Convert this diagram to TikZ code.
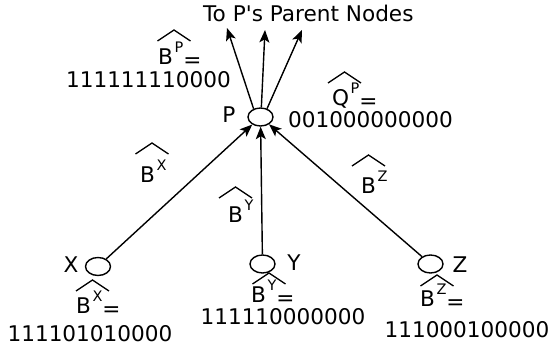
\documentclass[tikz,border=0pt]{standalone}
\usepackage{fontspec}
\newfontfamily\djv{DejaVu Sans}
\usetikzlibrary{shapes.geometric,arrows.meta}
\newcommand\bsup[2]{#1\kern1.5pt\raisebox{12.5pt}{\fontsize{14.5}{14.5}\selectfont #2}}
\newcommand\eqlow{\raisebox{-2.5pt}[\height][0pt]{=}}
\begin{document}
\begin{tikzpicture}[x=1pt,y=-1pt,
  vert/.style={draw, ellipse, minimum width=25pt, minimum height=18pt, inner sep=0pt, line width=1.4pt},
  txt/.style={inner sep=0pt, font=\djv\fontsize{21.6}{25}\selectfont},
  edge/.style={line width=1.4pt, -{Stealth[length=12.5pt,width=10pt,inset=3pt]}},
  hat/.pic={\draw[line width=1.3pt] (-16.5,11) -- (0,0) -- (16.5,11);}
]
\useasboundingbox (0,0) rectangle (550,347);
% vertices
\node[vert] (P) at (260.5,117) {};
\node[vert] (X) at (98,266.5) {};
\node[vert] (Y) at (262.5,264) {};
\node[vert] (Z) at (430.5,264) {};
\node[txt] (Pl) at (229,114.5) {P};
\node[txt] (Xl) at (71,264.5) {X};
\node[txt] (Yl) at (294,262.5) {Y};
\node[txt] (Zl) at (460,264.5) {Z};
% title and arrows to parents
\node[txt, anchor=base west] (title) at (203,22) {To P's Parent Nodes};
\coordinate (t1) at (227,28);
\coordinate (t2) at (265,30);
\coordinate (t3) at (302,30);
\draw[edge] (P.130) -- (t1);
\draw[edge] (P.85) -- (t2);
\draw[edge] (P.52) -- (t3);
% edges
\draw[edge] (X) -- (P);
\draw[edge] (Y) -- (P);
\draw[edge] (Z) -- (P);
% edge labels
\node[txt, anchor=base west] (lx) at (140,183) {\bsup{B}{X}};
\pic at (152,143) {hat};
\node[txt, anchor=base west] (ly) at (228,223) {\bsup{B}{Y}};
\pic at (235.5,187) {hat};
\node[txt, anchor=base west] (lz) at (361,194) {\bsup{B}{Z}};
\pic at (368.5,155) {hat};
% P labels
\node[txt, anchor=base west] (bp) at (158,65) {\bsup{B}{P}\eqlow};
\pic at (174,30) {hat};
\node[txt, anchor=base] (bpv) at (148.5,88) {111111110000};
\node[txt, anchor=base west] (qp) at (332,106) {\bsup{Q}{P}\eqlow};
\pic at (344.5,72) {hat};
\node[txt, anchor=base] (qpv) at (370.5,128) {001000000000};
% bottom labels
\node[txt, anchor=base west] (bx) at (76,314) {\bsup{B}{X}\eqlow};
\pic at (92.5,280) {hat};
\node[txt, anchor=base] (bxv) at (90,342) {111101010000};
\node[txt, anchor=base west] (by) at (251,303) {\bsup{B}{Y}\eqlow};
\pic at (269,273) {hat};
\node[txt, anchor=base] (byv) at (283,324.5) {111110000000};
\node[txt, anchor=base west] (bz) at (420,307) {\bsup{B}{Z}\eqlow};
\pic at (437,275) {hat};
\node[txt, anchor=base] (bzv) at (467,338) {111000100000};
\end{tikzpicture}
\end{document}
